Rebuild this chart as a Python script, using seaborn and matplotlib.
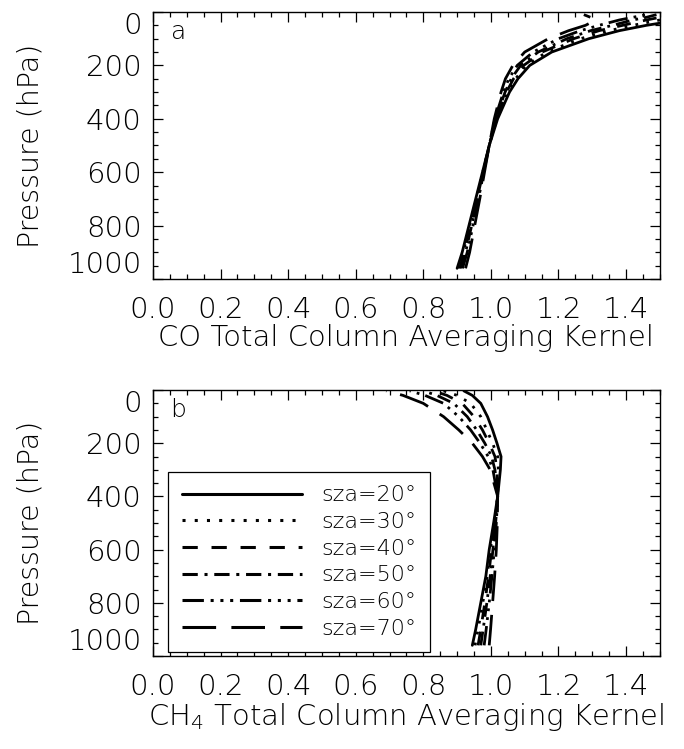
import matplotlib
matplotlib.use('Agg')

import matplotlib.pyplot as plt
from matplotlib.ticker import MultipleLocator
import seaborn as sns
import numpy as np
import pandas as pd

# solar zenith angles shown in the legend
sza = [20, 30, 40, 50, 60, 70]

# CO averaging kernel (panel a), pressure levels in hPa
co_pressure = [960, 900, 800, 700, 600, 500, 400, 300, 250, 200, 150, 100, 70, 50, 30, 20, 10]
co_sza20 = [0.900, 0.915, 0.935, 0.955, 0.975, 0.995, 1.020, 1.055, 1.080, 1.115, 1.180, 1.290, 1.380, 1.460, 1.560, 1.620, 1.700]
co_sza30 = [0.903, 0.918, 0.937, 0.957, 0.976, 0.995, 1.018, 1.050, 1.073, 1.105, 1.165, 1.265, 1.350, 1.420, 1.500, 1.540, 1.600]
co_sza40 = [0.907, 0.921, 0.940, 0.959, 0.977, 0.995, 1.016, 1.046, 1.067, 1.097, 1.152, 1.245, 1.320, 1.390, 1.460, 1.500, 1.540]
co_sza50 = [0.911, 0.925, 0.943, 0.961, 0.978, 0.995, 1.014, 1.042, 1.060, 1.088, 1.140, 1.225, 1.295, 1.360, 1.420, 1.460, 1.490]
co_sza60 = [0.916, 0.930, 0.947, 0.963, 0.979, 0.995, 1.012, 1.037, 1.053, 1.078, 1.125, 1.200, 1.265, 1.320, 1.380, 1.420, 1.460]
co_sza70 = [0.925, 0.937, 0.952, 0.967, 0.981, 0.995, 1.010, 1.030, 1.043, 1.065, 1.100, 1.170, 1.230, 1.280, 1.310, 1.295, 1.275]

# CH4 averaging kernel (panel b)
ch4_pressure = [960, 900, 800, 700, 600, 500, 400, 300, 250, 200, 150, 100, 50, 20, 3]
ch4_sza20 = [0.945, 0.955, 0.970, 0.985, 0.995, 1.008, 1.020, 1.028, 1.030, 1.018, 1.005, 0.990, 0.970, 0.945, 0.920]
ch4_sza30 = [0.953, 0.962, 0.976, 0.989, 0.998, 1.010, 1.020, 1.022, 1.020, 1.005, 0.988, 0.970, 0.940, 0.900, 0.860]
ch4_sza40 = [0.962, 0.970, 0.982, 0.993, 1.002, 1.012, 1.020, 1.018, 1.012, 0.995, 0.975, 0.950, 0.915, 0.870, 0.830]
ch4_sza50 = [0.970, 0.977, 0.988, 0.998, 1.006, 1.014, 1.020, 1.012, 1.002, 0.982, 0.958, 0.930, 0.890, 0.840, 0.800]
ch4_sza60 = [0.980, 0.986, 0.995, 1.003, 1.010, 1.016, 1.020, 1.006, 0.992, 0.968, 0.940, 0.905, 0.860, 0.805, 0.760]
ch4_sza70 = [0.995, 0.999, 1.005, 1.011, 1.016, 1.019, 1.020, 0.998, 0.975, 0.945, 0.905, 0.860, 0.800, 0.740, 0.690]

x_ticks = [0.0, 0.2, 0.4, 0.6, 0.8, 1.0, 1.2, 1.4]
y_ticks = [0, 200, 400, 600, 800, 1000]


def long_form(pressure, series):
    rows = []
    for angle, vals in zip(sza, series):
        for p, k in zip(pressure, vals):
            rows.append({'Pressure': p, 'Kernel': k, 'sza': f'sza={angle}°'})
    return pd.DataFrame(rows)


co_df = long_form(co_pressure, [co_sza20, co_sza30, co_sza40, co_sza50, co_sza60, co_sza70])
ch4_df = long_form(ch4_pressure, [ch4_sza20, ch4_sza30, ch4_sza40, ch4_sza50, ch4_sza60, ch4_sza70])

labels = [f'sza={a}°' for a in sza]
# IDL-like linestyles: solid, dotted, dashed, dash-dot, dash-dot-dot-dot, long dash
dashes = {
    labels[0]: '',
    labels[1]: (1, 3),
    labels[2]: (5, 4.5),
    labels[3]: (5, 2.2, 1, 2.2),
    labels[4]: (7, 2.2, 1, 2.2, 1, 2.2, 1, 2.2),
    labels[5]: (11, 5),
}
palette = {l: 'black' for l in labels}

sns.set_theme(style='ticks')
plt.rcParams['font.family'] = ['DejaVu Sans']
plt.rcParams['font.weight'] = 'light'
plt.rcParams['text.color'] = 'black'
plt.rcParams['axes.labelcolor'] = 'black'
plt.rcParams['axes.labelweight'] = 'light'
plt.rcParams['mathtext.default'] = 'regular'

fig = plt.figure(figsize=(6.84, 7.49), dpi=100)
ax_a = fig.add_axes([0.2237, 0.6275, 0.741, 0.3565])
ax_b = fig.add_axes([0.2237, 0.1242, 0.741, 0.355])

for ax, df, xlab, tag in [(ax_a, co_df, 'CO Total Column Averaging Kernel', 'a'),
                          (ax_b, ch4_df, 'CH$_4$ Total Column Averaging Kernel', 'b')]:
    sns.lineplot(data=df, x='Kernel', y='Pressure', hue='sza', style='sza',
                 hue_order=labels, style_order=labels, palette=palette,
                 dashes=dashes, estimator=None, sort=False, orient='y',
                 linewidth=2.0, legend=(tag == 'b'), ax=ax)
    ax.set_xlim(0, 1.5)
    ax.set_ylim(1000, 0)
    ax.set_xticks(x_ticks, [f'{v:.1f}' for v in x_ticks])
    ax.set_yticks(y_ticks, [str(v) for v in y_ticks])
    ax.xaxis.set_minor_locator(MultipleLocator(0.05))
    ax.yaxis.set_minor_locator(MultipleLocator(50))
    ax.tick_params(which='both', direction='in', top=True, right=True,
                   color='black', width=0.9, labelsize=21, labelcolor='black')
    ax.tick_params(axis='x', which='major', pad=12)
    ax.tick_params(axis='y', which='major', pad=8)
    ax.tick_params(which='major', length=7)
    ax.tick_params(which='minor', length=3.5)
    for s in ax.spines.values():
        s.set_color('black')
        s.set_linewidth(1.0)
    ticks = ax.yaxis.get_major_ticks()
    ticks[0].label1.set_va('top')
    ticks[-1].label1.set_va('bottom')
    ax.set_xlabel(xlab, fontsize=21, labelpad=0)
    ax.set_ylabel('Pressure (hPa)', fontsize=20.5)
    ax.yaxis.set_label_coords(-0.215, 0.5)
    ax.text(0.05, 0.925, tag, transform=ax.transAxes, fontsize=18,
            ha='center', va='center')

leg = ax_b.legend(loc='lower left', bbox_to_anchor=(0.03, 0.015), fontsize=16,
                  frameon=True, fancybox=False, edgecolor='black', framealpha=1,
                  handlelength=5.4, handletextpad=0.9, labelspacing=0.3,
                  borderpad=0.6, borderaxespad=0, title=None)
leg.get_frame().set_linewidth(0.9)
for line in leg.get_lines():
    line.set_linewidth(2.2)

plt.savefig('out.png', dpi=100)
print('Saved out.png')
